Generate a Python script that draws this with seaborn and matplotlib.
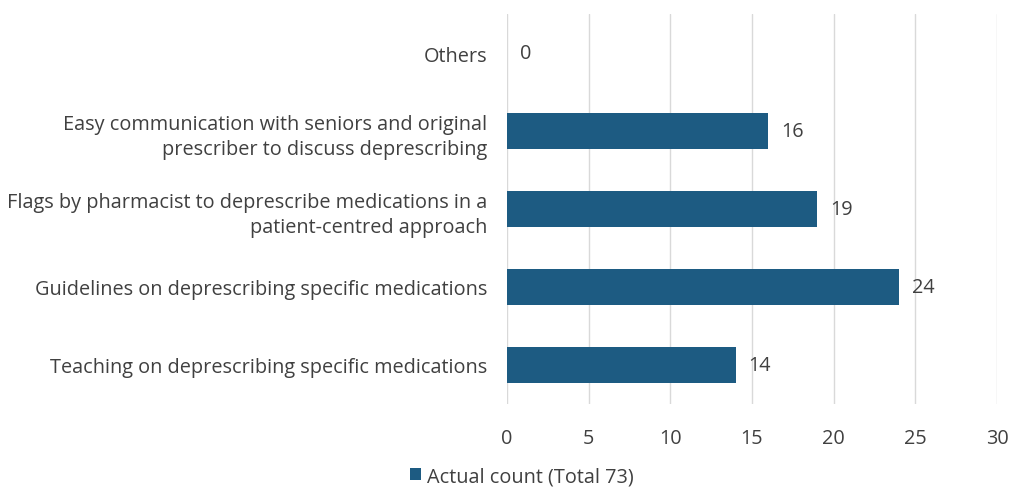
import matplotlib
matplotlib.use("Agg")
import matplotlib.pyplot as plt
import seaborn as sns
import pandas as pd

# data
categories = [
    "Others",
    "Easy communication with seniors and original\nprescriber to discuss deprescribing",
    "Flags by pharmacist to deprescribe medications in a\npatient-centred approach",
    "Guidelines on deprescribing specific medications",
    "Teaching on deprescribing specific medications",
]
counts = [0, 16, 19, 24, 14]
xticks = [0, 5, 10, 15, 20, 25, 30]
legend_label = "Actual count (Total 73)"

df = pd.DataFrame({"category": categories, "count": counts})

sns.set_theme(style="white")
plt.rcParams["font.family"] = ["Open Sans", "DejaVu Sans"]

bar_color = "#1d5b82"
text_color = "#404040"
fs = 14.3

fig = plt.figure(figsize=(10.23, 4.89), dpi=100)
ax = fig.add_axes([0.4956, 0.1718, 0.479, 0.7975])

sns.barplot(data=df, x="count", y="category", color=bar_color, width=0.46,
            saturation=1, ax=ax, label=legend_label, zorder=3, linewidth=0)

ax.set_xlim(0, 30)
ax.set_ylim(4.5, -0.5)
ax.set_xticks(xticks)
ax.set_xticklabels([str(t) for t in xticks])
ax.grid(axis="x", color="#d9d9d9", linewidth=1, zorder=0)
for s in ax.spines.values():
    s.set_visible(False)
ax.set_xlabel("")
ax.set_ylabel("")
ax.tick_params(axis="both", length=0, labelsize=fs, labelcolor=text_color)
ax.tick_params(axis="x", pad=17)
ax.tick_params(axis="y", pad=14)
for lab in ax.get_yticklabels():
    lab.set_horizontalalignment("right")
    lab.set_multialignment("right")
    lab.set_linespacing(1.35)

for i, v in enumerate(counts):
    ax.text(v + 0.8, i, str(v), va="center", ha="left", fontsize=fs, color=text_color)

handles, labels = ax.get_legend_handles_labels()
leg = ax.get_legend()
if leg is not None:
    leg.remove()
fig.legend(handles[:1], labels[:1], loc="center", bbox_to_anchor=(0.51, 0.024),
           frameon=False, fontsize=fs, handlelength=0.55, handleheight=0.55,
           handletextpad=0.3, labelcolor=text_color, borderpad=0.1)

fig.savefig("out.png", dpi=100, facecolor="white")
